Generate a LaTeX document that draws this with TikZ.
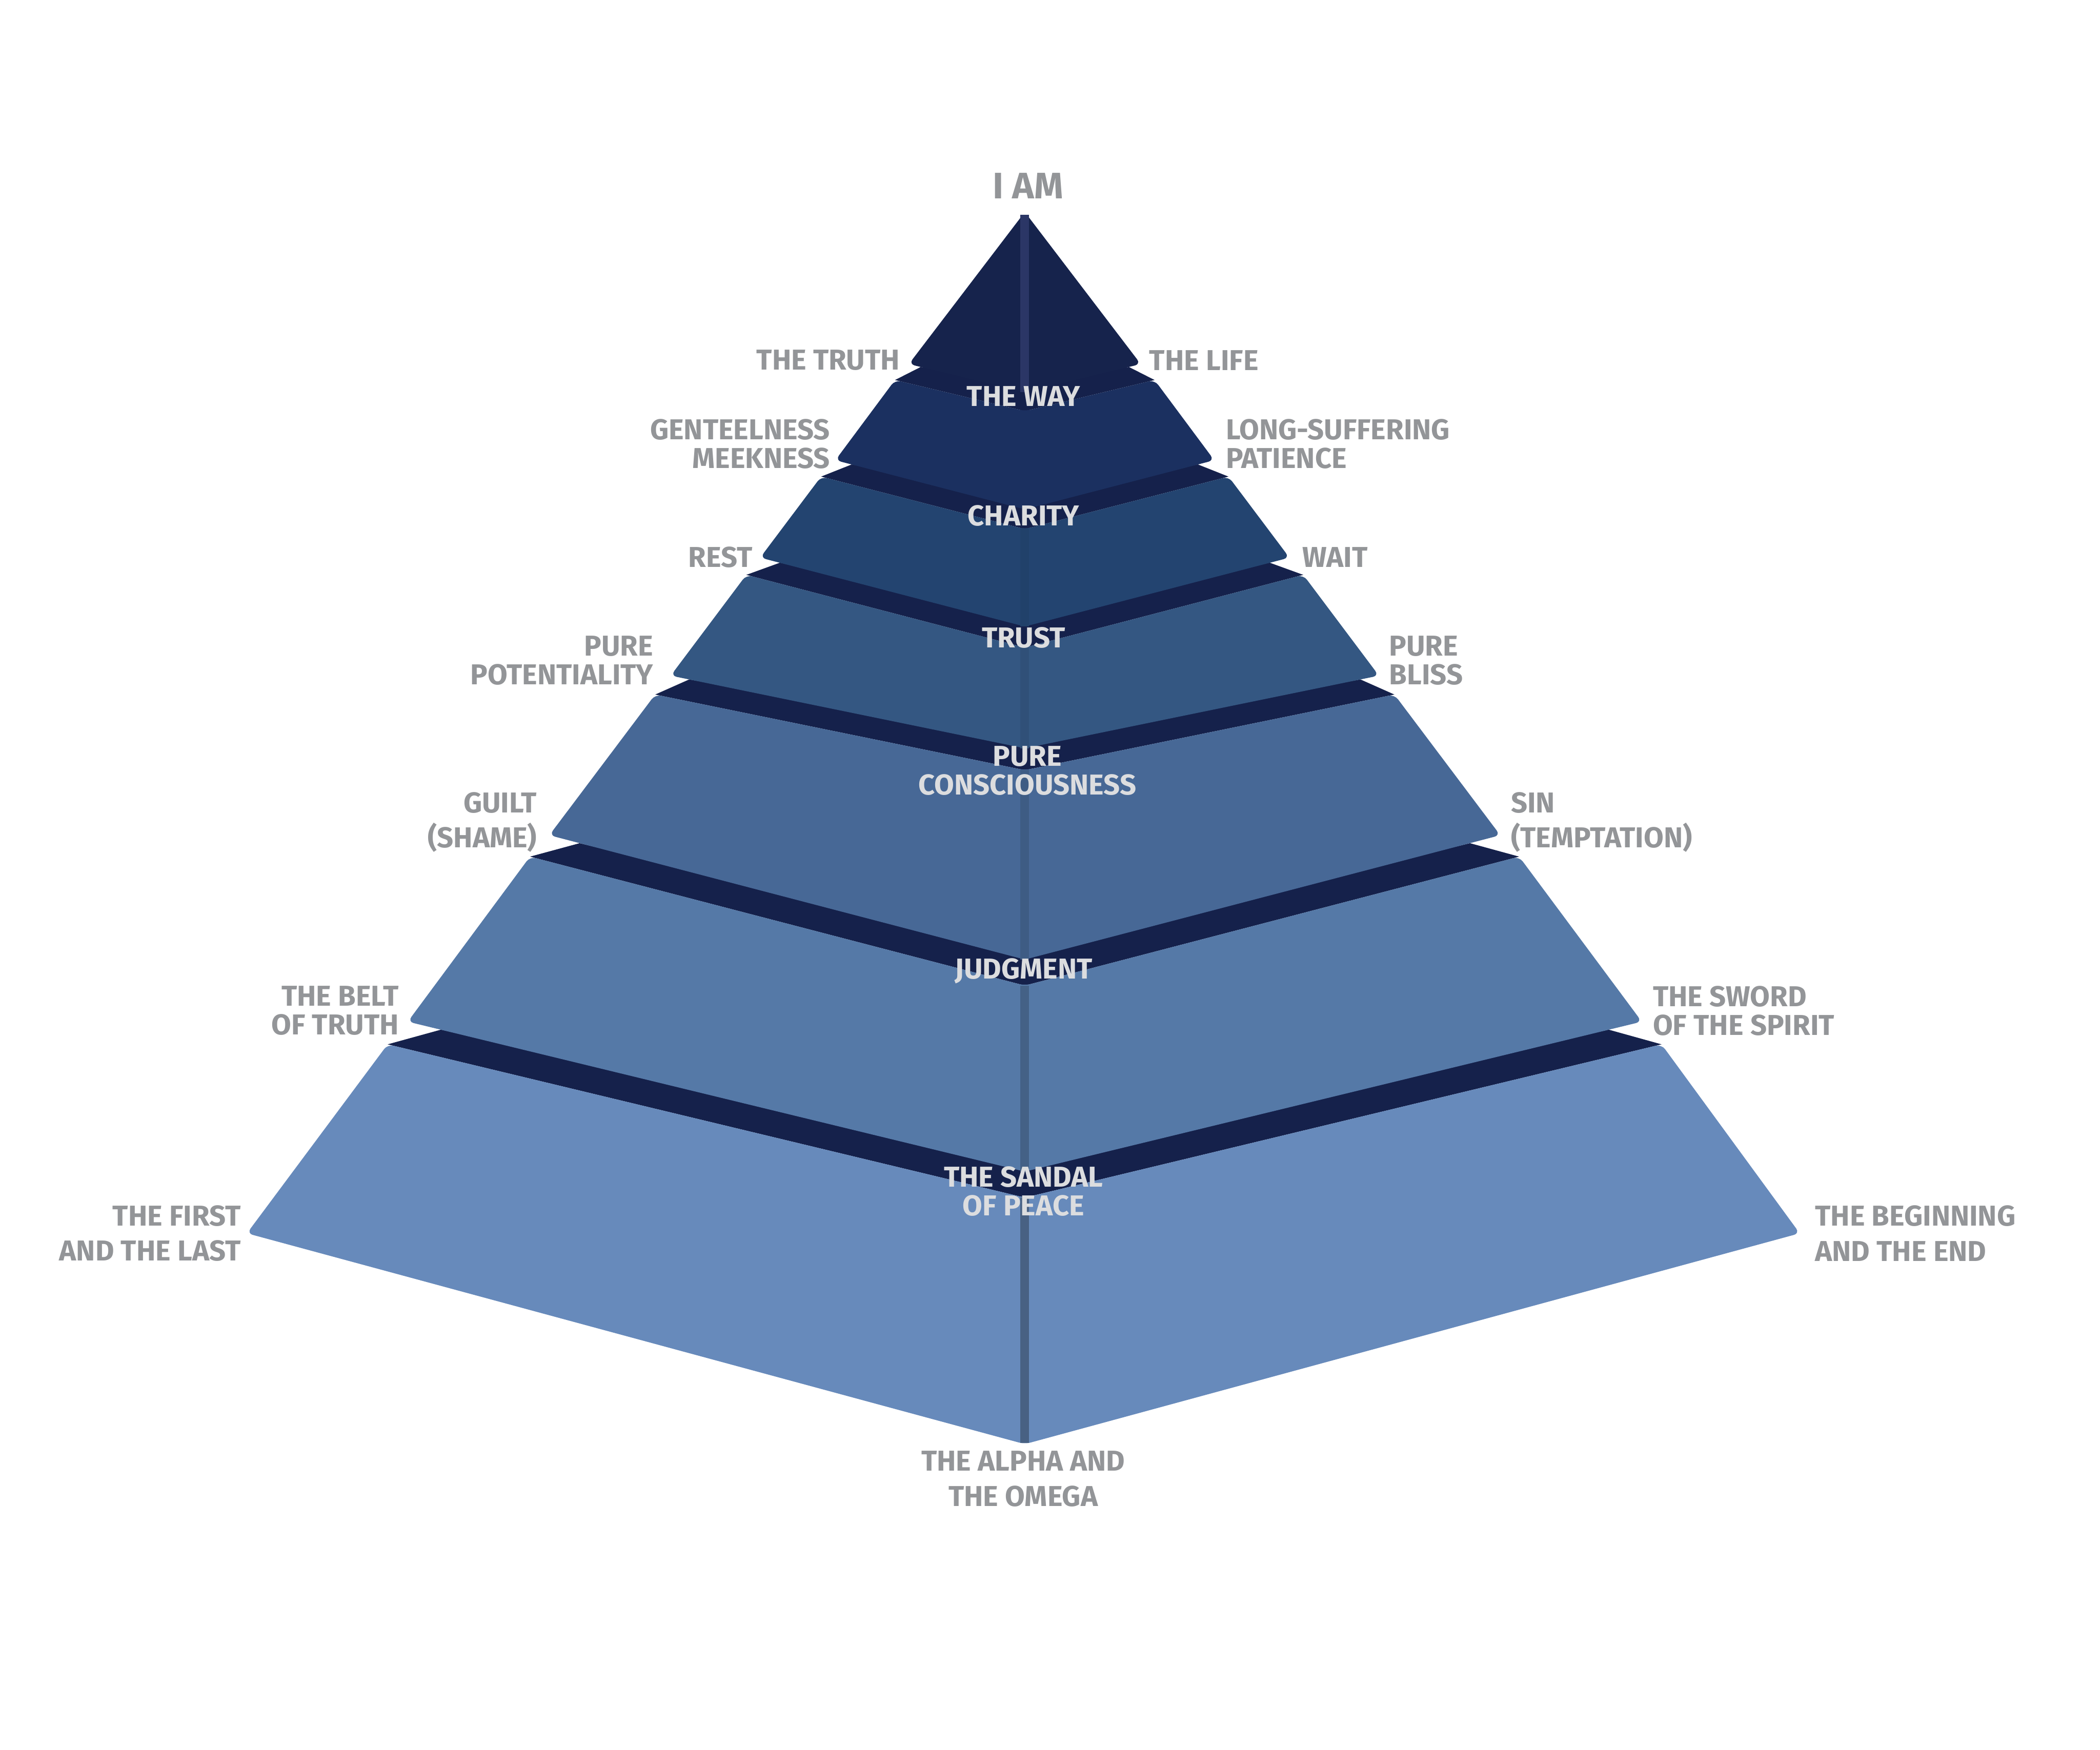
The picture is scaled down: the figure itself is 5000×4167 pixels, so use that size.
\documentclass[tikz,border=0pt]{standalone}
\usepackage{fontspec}
\setmainfont{Fira Sans}
\definecolor{band}{HTML}{15214B}
\definecolor{lay1}{HTML}{16234C}
\definecolor{lay2}{HTML}{1B3060}
\definecolor{lay3}{HTML}{234470}
\definecolor{lay4}{HTML}{345782}
\definecolor{lay5}{HTML}{476896}
\definecolor{lay6}{HTML}{5579A7}
\definecolor{lay7}{HTML}{678ABB}
\definecolor{labelgray}{HTML}{939598}
\definecolor{corelight}{HTML}{DCDDDF}

\begin{document}
\begin{tikzpicture}[x=0.1mm,y=-0.1mm,font=\bfseries\fontsize{19.5}{19.5}\selectfont,
  side/.style={text=labelgray,inner sep=0pt},
  core/.style={text=corelight,inner sep=0pt,align=center},
  loose/.style={font=\bfseries\fontsize{19.5}{23.8}\selectfont},
  layer/.style={rounded corners=1.4mm}]
\useasboundingbox (0,0) rectangle (5000,4167);

% bottom layer
\fill[band] (923,2487)--(2440,2852)--(3956,2487)--(3830,2452)--(2440,2770)--(1050,2452)--cycle;
\fill[lay7,layer] (923,2487)--(2440,2852)--(3956,2487)--(4285,2937)--(2440,3439)--(588,2937)--cycle;
\fill[lay7!70!black] (2429,2852) rectangle (2450,3436);
% sixth layer
\fill[band] (1262,2040)--(2440,2347)--(3617,2040)--(3500,2008)--(2440,2265)--(1380,2008)--cycle;
\fill[lay6,layer] (1262,2040)--(2440,2347)--(3617,2040)--(3909,2433)--(2440,2790)--(971,2433)--cycle;
\fill[lay6!80!black] (2429,2347) rectangle (2450,2790);
% fifth layer
\fill[band] (1560,1654)--(2440,1834)--(3320,1654)--(3239,1618)--(2440,1762)--(1641,1618)--cycle;
\fill[lay5,layer] (1560,1654)--(2440,1834)--(3320,1654)--(3572,1989)--(2440,2285)--(1308,1989)--cycle;
\fill[lay5!88!black] (2429,1834) rectangle (2450,2285);
% fourth layer
\fill[band] (1777,1369)--(2440,1542)--(3103,1369)--(3023,1340)--(2440,1472)--(1857,1340)--cycle;
\fill[lay4,layer] (1777,1369)--(2440,1542)--(3103,1369)--(3283,1609)--(2440,1782)--(1597,1609)--cycle;
\fill[lay4!92!black] (2429,1542) rectangle (2450,1782);
% third layer
\fill[band] (1955,1135)--(2440,1260)--(2925,1135)--(2852,1106)--(2440,1193)--(2028,1106)--cycle;
\fill[lay3,layer] (1955,1135)--(2440,1260)--(2925,1135)--(3070,1328)--(2440,1492)--(1810,1328)--cycle;
\fill[lay3!95!black] (2429,1260) rectangle (2450,1492);
% second layer
\fill[band] (2131,905)--(2440,979)--(2749,905)--(2688,874)--(2440,914)--(2192,874)--cycle;
\fill[lay2,layer] (2131,905)--(2440,979)--(2749,905)--(2891,1096)--(2440,1213)--(1989,1096)--cycle;
% top
\fill[lay1,layer] (2440,505)--(2716,867)--(2440,934)--(2164,867)--cycle;
\fill[lay1!90!white!95!blue] (2429,512) rectangle (2450,934);

\node[side,font=\bfseries\fontsize{25}{27}\selectfont] (iam) at (2448,442) {I AM};
\node[side,anchor=east] (truth) at (2143,858) {THE TRUTH};
\node[side,anchor=west] (life) at (2736,858) {THE LIFE};
\node[side,anchor=east,align=right] (meek) at (1977,1057) {GENTEELNESS\\MEEKNESS};
\node[side,anchor=west,align=left] (patience) at (2918,1057) {LONG-SUFFERING\\PATIENCE};
\node[side,anchor=east] (rest) at (1792,1327) {REST};
\node[side,anchor=west] (wait) at (3100,1327) {WAIT};
\node[side,anchor=east,align=right] (potential) at (1556,1573) {PURE\\POTENTIALITY};
\node[side,anchor=west,align=left] (bliss) at (3307,1573) {PURE\\BLISS};
\node[side,loose,anchor=east,align=right] (guilt) at (1279,1958) {GUILT\\(SHAME)};
\node[side,loose,anchor=west,align=left] (sin) at (3597,1958) {SIN\\(TEMPTATION)};
\node[side,anchor=east,align=right] (belt) at (950,2407) {THE BELT\\OF TRUTH};
\node[side,anchor=west,align=left] (sword) at (3935,2407) {THE SWORD\\OF THE SPIRIT};
\node[side,loose,anchor=east,align=right] (first) at (574,2937) {THE FIRST\\AND THE LAST};
\node[side,loose,anchor=west,align=left] (beginning) at (4321,2937) {THE BEGINNING\\AND THE END};
\node[side,loose,align=center] (alpha) at (2436,3522) {THE ALPHA AND\\THE OMEGA};

\node[core] (way) at (2437,944) {THE WAY};
\node[core] (charity) at (2437,1228) {CHARITY};
\node[core] (trust) at (2437,1518) {TRUST};
\node[core] (consc) at (2446,1835) {PURE\\CONSCIOUSNESS};
\node[core] (judgment) at (2437,2312) {JUDGMENT};
\node[core] (sandal) at (2437,2837) {THE SANDAL\\OF PEACE};
\end{tikzpicture}
\end{document}
